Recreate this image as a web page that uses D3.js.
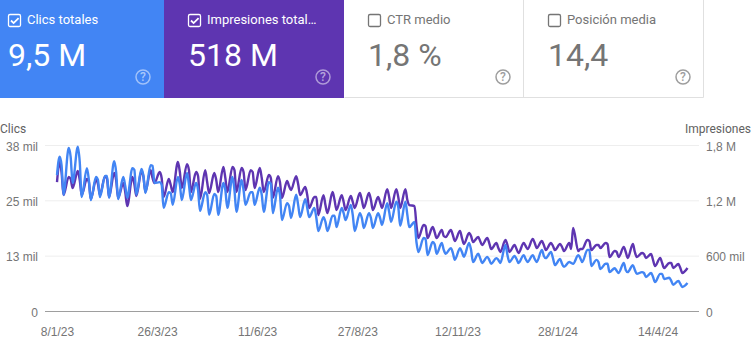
<!DOCTYPE html>
<html>
<head>
<meta charset="utf-8">
<script src="https://cdn.jsdelivr.net/npm/d3@7"></script>
<style>
  html, body { margin: 0; padding: 0; background: #fff; }
  svg { display: block; font-family: Roboto, sans-serif; }
  .tick text { fill: #757575; font-size: 12px; }
  .axis-title { fill: #616161; font-size: 12px; }
</style>
</head>
<body>
<div id="chart"></div>
<script>
const width = 755, height = 351;

// scorecards
const cardTitles = ["Clics totales", "Impresiones total…", "CTR medio", "Posición media"];
const cardValues = ["9,5 M", "518 M", "1,8 %", "14,4"];

// axis ticks
const clickTicks = [0, 12.667, 25.333, 38];
const clickLabels = ["0", "13 mil", "25 mil", "38 mil"];
const imprTicks = [0, 600, 1200, 1800];
const imprLabels = ["0", "600 mil", "1,2 M", "1,8 M"];
const dateTicks = ["2023-01-08", "2023-03-26", "2023-06-11", "2023-08-27", "2023-11-12", "2024-01-28", "2024-04-14"];
const dateLabels = ["8/1/23", "26/3/23", "11/6/23", "27/8/23", "12/11/23", "28/1/24", "14/4/24"];

// first day, then high / shoulder / low for every week (thousands)
const clicks = [31.1,
  35.3,33.4,26.6, 37.3,35.3,29.3, 37.6,34.1,26.1, 32.7,30,25.4, 30.7,30,26.1,
  30.9,30.9,25.9, 34.3,31.8,25.6, 30.7,28.6,25.9, 32.7,32.3,26.6, 32.5,30.9,27,
  33.4,33.2,29.3, 29.5,28.9,23.6, 27.2,27,24.3, 30.7,28.9,25.4, 31.6,28.9,25.4,
  29.3,27.7,22.9, 27.2,26.6,22, 26.8,26.3,22, 29.3,27.7,23.6, 30.7,27.7,22.7,
  30,27.7,24.3, 27.2,27.2,24.3, 28.2,26.6,22.7, 29.5,29.1,22.4, 28.2,26.6,20.8,
  24.7,24,21.3, 26.6,24.3,21.5, 25.6,23.6,21.5, 23.6,21.3,18.3, 21.5,20.4,18.3,
  21.8,21.8,19.2, 23.6,22.4,20.8, 24.3,22,18.3, 22.4,21.3,19, 22.4,21.3,19,
  22.4,21.3,19.7, 24.7,22.7,20.4, 25,23.8,19.5, 25,22,19.2, 20.4,15.8,13.5,
  16.7,16.5,12.8, 15.8,15.3,13.1, 15.6,14,13.1, 14.4,13.3,11.7, 14.4,13.5,12.4,
  15.6,14,11.2, 13.1,12.1,11, 12.4,11.7,10.8, 12.1,11.7,11, 15.1,12.8,11.2,
  12.6,11.9,11, 12.8,11.9,11.2, 12.8,11.9,11.2, 14,12.6,12.1, 13.5,12.1,10.5,
  11.9,10.8,10.1, 11.2,11,10.8, 12.8,12.1,11.2, 14,14,10.3, 11.7,11.2,9.6,
  10.8,10.8,8.9, 9.8,9.2,8.7, 11,9.4,8.9, 10.5,9.4,8.5, 8.9,8.7,7.8,
  8.7,7.8,6.6, 8.5,8.5,7.3, 7.6,6.9,6, 6.9,6.2,5.5, 6.4];

const impressions = [1398,
  1615,1507,1257, 1453,1431,1333, 1518,1420,1257, 1431,1398,1214, 1420,1377,1257,
  1463,1431,1236, 1496,1420,1225, 1388,1290,1138, 1453,1377,1247, 1518,1453,1290,
  1528,1442,1388, 1507,1442,1236, 1431,1366,1290, 1615,1507,1333, 1593,1528,1290,
  1507,1463,1214, 1528,1398,1279, 1496,1420,1290, 1561,1442,1290, 1561,1528,1290,
  1550,1507,1312, 1528,1507,1333, 1550,1442,1290, 1474,1442,1225, 1463,1398,1225,
  1409,1355,1312, 1463,1377,1257, 1344,1257,1117, 1236,1236,1041, 1257,1149,1062,
  1290,1203,1095, 1257,1182,1095, 1247,1182,1117, 1279,1203,1117, 1279,1203,1095,
  1236,1182,1117, 1322,1236,1117, 1322,1236,1117, 1322,1203,1149, 1138,932,791,
  932,921,791, 911,856,791, 878,813,802, 878,824,759, 867,791,726,
  846,813,748, 802,759,715, 791,737,672, 737,683,640, 770,715,640,
  715,672,629, 737,705,672, 780,737,683, 759,715,661, 737,705,661,
  726,694,650, 737,672,900, 650,672,672, 770,759,661, 715,715,683,
  737,726,585, 650,640,585, 694,640,575, 726,640,585, 629,618,575,
  618,553,488, 575,520,466, 520,520,466, 509,466,412, 466];

const parseDate = d3.timeParse("%Y-%m-%d");
const start = parseDate("2023-01-08");

// one date per reading, same for both series
const dayInWeek = [2, 3.5, 5];
const dates = [start];
for (let i = 1; i < clicks.length; i++) {
    let week = Math.floor((i - 1) / 3);
    let day = week * 7 + dayInWeek[(i - 1) % 3];
    dates.push(new Date(start.getTime() + day * 864e5));
}

const svg = d3.select("#chart")
    .append("svg")
    .attr("width", width)
    .attr("height", height);

// ---- cards ----
const cards = [
    { x: 0, w: 164, fill: "#4285f4", on: true },
    { x: 164, w: 180, fill: "#5e35b1", on: true },
    { x: 344, w: 180, fill: "#fff", on: false },
    { x: 524, w: 180, fill: "#fff", on: false }
];

const card = svg.selectAll("g.card")
    .data(cards)
    .join("g")
    .attr("class", "card")
    .attr("transform", d => `translate(${d.x},0)`);

card.append("rect")
    .attr("width", d => d.w)
    .attr("height", 98)
    .attr("fill", d => d.fill);

// borders of the two white cards
svg.append("path")
    .attr("d", "M344.5,97.5H703.5V0M523.5,0V97.5")
    .attr("fill", "none")
    .attr("stroke", "#e0e0e0");

const pad = [8, 24, 24, 24];

card.append("rect")
    .attr("x", (d, i) => pad[i] + 0.5)
    .attr("y", 14.5)
    .attr("width", 12)
    .attr("height", 12)
    .attr("rx", 1.5)
    .attr("fill", "none")
    .attr("stroke", d => d.on ? "#fff" : "#757575")
    .attr("stroke-width", 1.3);

card.filter(d => d.on).append("path")
    .attr("d", (d, i) => `M${pad[i] + 3},20.5l2.6,2.6l5,-5`)
    .attr("fill", "none")
    .attr("stroke", "#fff")
    .attr("stroke-width", 1.8);

card.append("text")
    .attr("x", (d, i) => pad[i] + 19)
    .attr("y", 24)
    .attr("font-size", 13)
    .attr("font-weight", 400)
    .attr("fill", d => d.on ? "#fff" : "#757575")
    .text((d, i) => cardTitles[i]);

card.append("text")
    .attr("x", (d, i) => pad[i])
    .attr("y", 66)
    .attr("font-size", 32)
    .attr("fill", d => d.on ? "#fff" : "#757575")
    .text((d, i) => cardValues[i]);

// help icons
card.append("circle")
    .attr("cx", d => d.w - 21)
    .attr("cy", 77)
    .attr("r", 7)
    .attr("fill", "none")
    .attr("stroke", d => d.on ? "rgba(255,255,255,0.5)" : "#9e9e9e")
    .attr("stroke-width", 1.5);

card.append("text")
    .attr("x", d => d.w - 21)
    .attr("y", 81)
    .attr("text-anchor", "middle")
    .attr("font-size", 12)
    .attr("font-weight", 500)
    .attr("fill", d => d.on ? "rgba(255,255,255,0.55)" : "#9e9e9e")
    .text("?");

// ---- chart ----
const plot = { left: 45, right: 699, top: 145, bottom: 311 };

// 8/1/23 sits at x=57, 1.3px a day
let x = d3.scaleTime()
    .domain([start, new Date(start.getTime() + 492 * 864e5)])
    .range([57, 57 + 492 * 1.3]);

let yClicks = d3.scaleLinear()
    .domain([0, 38])
    .range([plot.bottom, plot.top]);

let yImpr = d3.scaleLinear()
    .domain([0, 1800])
    .range([plot.bottom, plot.top]);

// grid lines + left labels
let left = svg.append("g")
    .attr("transform", `translate(${plot.left},0)`)
    .call(d3.axisLeft(yClicks)
        .tickValues(clickTicks)
        .tickFormat((d, i) => clickLabels[i])
        .tickSize(-(plot.right - plot.left))
        .tickPadding(7));
left.select(".domain").remove();
left.selectAll(".tick line").attr("stroke", (d, i) => i == 0 ? "#9e9e9e" : "#eeeeee");
left.selectAll(".tick text").attr("dy", "0.42em");

let right = svg.append("g")
    .attr("transform", `translate(${plot.right},0)`)
    .call(d3.axisRight(yImpr)
        .tickValues(imprTicks)
        .tickFormat((d, i) => imprLabels[i])
        .tickSize(0)
        .tickPadding(7));
right.select(".domain").remove();
right.selectAll(".tick text").attr("dy", "0.42em");

let bottom = svg.append("g")
    .attr("transform", `translate(0,${plot.bottom + 13})`)
    .call(d3.axisBottom(x)
        .tickValues(dateTicks.map(parseDate))
        .tickFormat((d, i) => dateLabels[i])
        .tickSize(0)
        .tickPadding(3));
bottom.select(".domain").remove();

svg.append("text")
    .attr("class", "axis-title")
    .attr("x", 0)
    .attr("y", 133)
    .text("Clics");

svg.append("text")
    .attr("class", "axis-title")
    .attr("x", 751)
    .attr("y", 133)
    .attr("text-anchor", "end")
    .text("Impresiones");

// blue is drawn last, it stays on top everywhere in the picture
svg.append("path")
    .datum(impressions)
    .attr("d", d3.line()
        .x((d, i) => x(dates[i]))
        .y(d => yImpr(d))
        .curve(d3.curveMonotoneX))
    .attr("fill", "none")
    .attr("stroke", "#5e35b1")
    .attr("stroke-width", 2.4);

svg.append("path")
    .datum(clicks)
    .attr("d", d3.line()
        .x((d, i) => x(dates[i]))
        .y(d => yClicks(d))
        .curve(d3.curveMonotoneX))
    .attr("fill", "none")
    .attr("stroke", "#4285f4")
    .attr("stroke-width", 2.4);
</script>
</body>
</html>
